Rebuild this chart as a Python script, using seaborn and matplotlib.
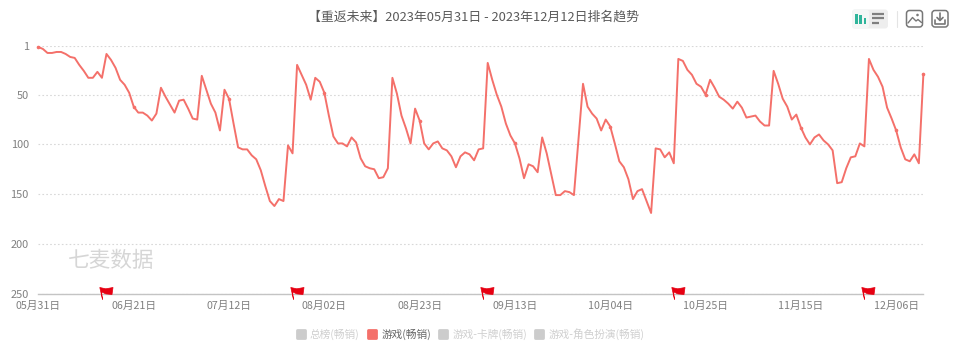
import matplotlib
matplotlib.use("Agg")
import matplotlib.pyplot as plt
from matplotlib.lines import Line2D
from matplotlib.markers import MarkerStyle
from matplotlib.patches import FancyBboxPatch, Rectangle
from matplotlib.path import Path
import numpy as np
import pandas as pd
import seaborn as sns

title = "【重返未来】2023年05月31日 - 2023年12月12日排名趋势"
start_date = "2023-05-31"
ranks = [2, 4, 8, 8, 7, 7, 9, 12, 13, 20, 26, 33, 33, 27, 33, 9, 15, 23, 35, 40,
         48, 62, 68, 68, 71, 76, 69, 43, 52, 60, 68, 56, 55, 64, 74, 75, 31, 45, 59, 68,
         86, 45, 54, 79, 103, 105, 105, 111, 115, 126, 142, 157, 162, 155, 157, 101, 109, 20, 30, 40,
         55, 33, 37, 48, 71, 92, 99, 99, 102, 93, 98, 114, 122, 124, 125, 134, 133, 124, 33, 49,
         71, 84, 99, 64, 76, 99, 105, 99, 97, 104, 106, 112, 123, 112, 108, 110, 116, 105, 104, 18,
         35, 50, 62, 79, 91, 99, 114, 134, 120, 122, 128, 93, 109, 130, 151, 151, 147, 148, 151, 95,
         39, 62, 69, 74, 86, 75, 82, 99, 117, 123, 135, 155, 147, 145, 157, 169, 104, 105, 113, 108,
         119, 14, 16, 25, 30, 39, 42, 50, 35, 43, 52, 55, 59, 64, 57, 63, 73, 72, 71, 77,
         81, 81, 26, 39, 54, 62, 75, 70, 83, 93, 100, 93, 90, 96, 100, 106, 139, 138, 124, 113,
         112, 99, 102, 14, 25, 32, 42, 63, 74, 86, 103, 115, 117, 110, 119, 29]
y_ticks = [1, 50, 100, 150, 200, 250]
x_tick_dates = ["2023-05-31", "2023-06-21", "2023-07-12", "2023-08-02", "2023-08-23", "2023-09-13",
                "2023-10-04", "2023-10-25", "2023-11-15", "2023-12-06"]
x_tick_labels = ["05月31日", "06月21日", "07月12日", "08月02日", "08月23日", "09月13日",
                 "10月04日", "10月25日", "11月15日", "12月06日"]
flag_dates = ["2023-06-14", "2023-07-26", "2023-09-06", "2023-10-18", "2023-11-29"]
legend_labels = ["总榜(畅销)", "游戏(畅销)", "游戏-卡牌(畅销)", "游戏-角色扮演(畅销)"]
active_label = "游戏(畅销)"
watermark = "七麦数据"

LINE = "#f4706a"
W, H = 960, 352

sns.set_style("white")
plt.rcParams["font.family"] = ["Noto Sans CJK SC", "DejaVu Sans"]

df = pd.DataFrame({"date": pd.date_range(start_date, periods=len(ranks), freq="D"), "rank": ranks})

fig = plt.figure(figsize=(W / 100, H / 100), dpi=100)
left, right, top, bottom = 38.4, 923.4, 46.0, 293.5
ax = fig.add_axes([left / W, 1 - bottom / H, (right - left) / W, (bottom - top) / H])

marked = list(range(0, len(ranks), 21)) + [len(ranks) - 1]
sns.lineplot(data=df, x="date", y="rank", ax=ax, color=LINE, linewidth=1.4, clip_on=False,
             marker="o", markersize=2.6, markeredgewidth=0, markevery=marked, errorbar=None)

ax.set_xlim(df["date"].iloc[0], df["date"].iloc[-1])
ax.set_ylim(250, 1)
ax.set_yticks(y_ticks)
ax.set_xticks(pd.to_datetime(x_tick_dates))
ax.set_xticklabels(x_tick_labels)
ax.set_xlabel("")
ax.set_ylabel("")
ax.tick_params(axis="x", length=0, pad=5, labelsize=7.7, labelcolor="#808080")
ax.tick_params(axis="y", length=0, pad=7, labelsize=7.9, labelcolor="#808080")
ax.grid(axis="y", linestyle=(0, (1.5, 2)), color="#d8d8d8", linewidth=0.8)
ax.set_axisbelow(True)
for s in ["top", "left", "right"]:
    ax.spines[s].set_visible(False)
ax.spines["bottom"].set_color("#c4c4c4")
ax.spines["bottom"].set_linewidth(1.0)

# Flag marker: shape in pixels around the anchor on the axis line
flag_shape = [(0, -5), (-2.7, 7), (3.3, 5.7), (10.5, 7), (9.5, 0), (3.3, 0.6), (-0.9, 2.6), (0, -5)]
flag_path = Path(flag_shape)
flag_ms = 2 * max(abs(v) for p in flag_shape for v in p) * 0.72
ax.plot(pd.to_datetime(flag_dates), [250] * len(flag_dates), linestyle="none", marker=flag_path,
        markersize=flag_ms, markerfacecolor="#e60012", markeredgecolor="#e60012",
        markeredgewidth=0.5, clip_on=False, zorder=6)

# Overlay in figure pixels for title, watermark and toolbar
ov = fig.add_axes([0, 0, 1, 1], zorder=-1)
ov.set_xlim(0, W)
ov.set_ylim(H, 0)
ov.axis("off")
ov2 = fig.add_axes([0, 0, 1, 1], zorder=10)
ov2.set_xlim(0, W)
ov2.set_ylim(H, 0)
ov2.axis("off")
ov2.patch.set_alpha(0)
ax.patch.set_alpha(0)

ov2.text(473, 17, title, ha="center", va="center", fontsize=9.3, color="#5a5a5a")
ov.text(111, 261, watermark, ha="center", va="center", fontsize=15.6, color="#d6d6d6", fontweight="medium")

ov2.add_patch(FancyBboxPatch((852, 9.5), 36, 19, boxstyle="round,pad=0,rounding_size=3", fc="#eeeeee", ec="none"))
ov2.add_patch(FancyBboxPatch((852, 9.5), 17, 19, boxstyle="round,pad=0,rounding_size=3", fc="#f4f7f6", ec="none"))
for x, y0 in [(855, 14), (859.3, 15), (863.6, 18)]:
    ov2.add_patch(Rectangle((x, y0), 2.8, 23.5 - y0, fc="#2fb59b", ec="none"))
for y, x1 in [(13.5, 884), (18, 884), (22.5, 879)]:
    ov2.plot([872, x1], [y, y], color="#808080", lw=1.6, solid_capstyle="butt")
ov2.plot([897, 897], [11, 27], color="#e4e4e4", lw=0.8)
for x0 in (906.5, 932):
    ov2.add_patch(FancyBboxPatch((x0, 10.5), 16, 16.5, boxstyle="round,pad=0,rounding_size=3",
                                 fc="white", ec="#777777", lw=1.1))
ov2.plot([908, 912.5, 916, 918, 921.5], [23, 17.5, 21, 19.5, 22.5], color="#777777", lw=1.0)
ov2.add_patch(plt.Circle((917.5, 15), 1.3, fc="#777777", ec="none"))
ov2.plot([940, 940], [13, 20], color="#777777", lw=1.2)
ov2.plot([937, 940, 943], [17.5, 20.5, 17.5], color="#777777", lw=1.2)
ov2.plot([935, 935, 945, 945], [19.5, 23.5, 23.5, 19.5], color="#777777", lw=1.2)

# Legend
handles = []
for lab in legend_labels:
    c = LINE if lab == active_label else "#cccccc"
    handles.append(Line2D([], [], linestyle="none", marker=MarkerStyle("s", joinstyle="round"), markersize=5.4,
                          markerfacecolor=c, markeredgecolor=c, markeredgewidth=2))
leg = fig.legend(handles, legend_labels, loc="center", bbox_to_anchor=(470 / W, 1 - 334 / H), ncols=4,
                 frameon=False, fontsize=7.7, handlelength=0.95, handletextpad=0.4, columnspacing=0.65,
                 borderpad=0, borderaxespad=0)
for t in leg.get_texts():
    t.set_color("#666666" if t.get_text() == active_label else "#cfcfcf")

fig.savefig("out.png", dpi=100, facecolor="white")
